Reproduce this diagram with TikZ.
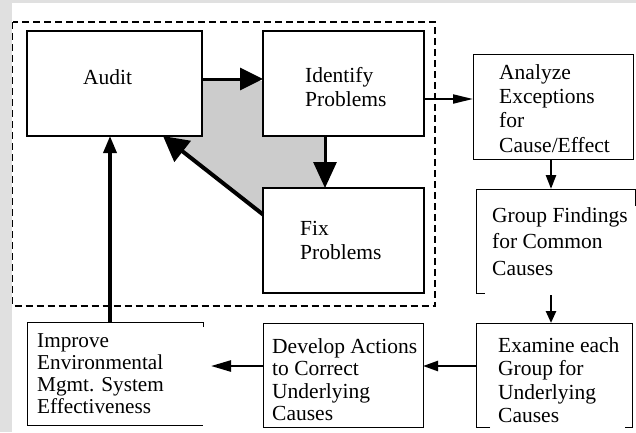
\documentclass[tikz,border=0pt]{standalone}
\usepackage{fontspec}
\setmainfont{Liberation Serif}
\usetikzlibrary{arrows.meta}
\newcommand\fbig{\fontsize{21.5}{23.5}\selectfont}
\newcommand\fsmall{\fontsize{21.2}{22}\selectfont}
\definecolor{bgray}{RGB}{224,224,224}
\definecolor{pgray}{RGB}{204,204,204}
\begin{document}
\begin{tikzpicture}[x=1pt,y=-1pt,
  boldbox/.style={draw=black, line width=2.5pt, fill=white, inner sep=0pt, outer sep=0pt, rectangle},
  thinbox/.style={draw=black, line width=1pt, fill=white, inner sep=0pt, outer sep=0pt, rectangle},
  openbox/.style={draw=none, fill=white, inner sep=0pt, outer sep=0pt, rectangle},
  txt/.style={font=\fbig, align=left, anchor=base west, inner sep=0pt},
  stxt/.style={font=\fsmall, align=left, anchor=base west, inner sep=0pt},
  bigarrow/.style={line width=3pt, -{Triangle[length=23pt,width=22pt]}},
  midarrow/.style={line width=2.5pt, -{Triangle[length=14pt,width=10pt]}},
  thinarrow/.style={line width=2pt, -{Triangle[length=20pt,width=9pt]}},
  partline/.style={line width=1pt}
]
\useasboundingbox (0,0) rectangle (636,432);
\fill[bgray] (0,0) rectangle (636,432);
\fill[white] (12,3) rectangle (636,432);

% gray region
\fill[pgray] (202,81) -- (325,81) -- (325,188) -- (263,214) -- (163,136) -- (202,136) -- cycle;

% dashed frame
\draw[line width=1.5pt, dash pattern=on 7pt off 4pt] (12.5,22) rectangle (435,306);

% boxes
\node[boldbox, minimum width=175pt, minimum height=105pt] (audit) at (114.5,83.5) {};
\node[boldbox, minimum width=161pt, minimum height=105pt] (identify) at (343.5,83.5) {};
\node[boldbox, minimum width=161pt, minimum height=105pt] (fix) at (343.5,240.5) {};
\node[thinbox, minimum width=160pt, minimum height=105pt] (analyze) at (553,106.5) {};
\node[openbox, minimum width=159pt, minimum height=104pt] (group) at (555.5,241) {};
\node[openbox, minimum width=156pt, minimum height=104pt] (examine) at (554,375) {};
\node[thinbox, minimum width=160pt, minimum height=104pt] (develop) at (343,375) {};
\node[openbox, minimum width=176pt, minimum height=103pt] (improve) at (115,373.5) {};

% partial borders
\draw[partline] ([yshift=-5pt]improve.north east) -- (improve.north east) -- (improve.north west) -- (improve.south west) -- (improve.south east);
\draw[partline] ([yshift=-17pt]group.north east) -- (group.north east) -- (group.north west) -- (group.south west) -- ([xshift=9pt]group.south west);
\draw[partline] ([xshift=14pt]examine.south west) -- (examine.south west) -- (examine.north west) -- (examine.north east) -- (examine.south east) -- ([xshift=-7pt]examine.south east);

% texts (base anchor = baseline of the last line)
\node[txt, anchor=base] (tAudit) at (107.5,84) {Audit};
\node[txt] (tIdentify) at (305,106) {Identify\\Problems};
\node[txt] (tFix) at (300,259) {Fix\\Problems};
\node[txt, font=\fontsize{21.5}{24.2}\selectfont] (tAnalyze) at (499,152) {Analyze\\Exceptions\\for\\Cause/Effect};
\node[txt, font=\fontsize{21.5}{26.5}\selectfont] (tGroup) at (492,275) {Group Findings\\for Common\\Causes};
\node[txt] (tExamine) at (498,422.5) {Examine each\\Group for\\Underlying\\Causes};
\node[txt, font=\fontsize{21.5}{22.5}\selectfont] (tDevelop) at (272,420.5) {Develop Actions\\to Correct\\Underlying\\Causes};
\node[stxt] (tImprove) at (37,413) {Improve\\Environmental\\Mgmt. System\\Effectiveness};

% connectors
\draw[bigarrow] ([yshift=4.5pt]audit.east) -- ([yshift=4.5pt]identify.west);
\draw[line width=3pt, -{Triangle[length=26pt,width=23pt]}] ([xshift=-18.5pt]identify.south) -- ([xshift=-18.5pt]fix.north);
\draw[line width=4pt, -{Triangle[length=25pt,width=26pt]}] ([yshift=26pt]fix.west) -- ([xshift=48.5pt]audit.south);
\draw[line width=3.5pt, -{Triangle[length=17pt,width=13pt]}] ([xshift=-5pt]improve.north) -- ([xshift=-4.5pt]audit.south);
\draw[thinarrow] ([yshift=-15.5pt]identify.east) -- ([yshift=7.5pt]analyze.west);
\draw[midarrow] ([xshift=-2pt]analyze.south) -- ([xshift=-2pt]analyze.south |- group.north);
\draw[line width=2.5pt, -{Triangle[length=12pt,width=10pt]}] ([xshift=-4.5pt,yshift=-2pt]group.south) -- ([xshift=-4.5pt]group.south |- examine.north);
\draw[line width=2.5pt, -{Triangle[length=15pt,width=10pt]}] ([yshift=9pt]examine.west) -- ([yshift=9pt]develop.east);
\draw[line width=2.5pt, shorten >=8pt, -{Triangle[length=20pt,width=11pt]}] ([yshift=9pt]develop.west) -- ([yshift=9pt]develop.west -| improve.east);
\end{tikzpicture}
\end{document}
